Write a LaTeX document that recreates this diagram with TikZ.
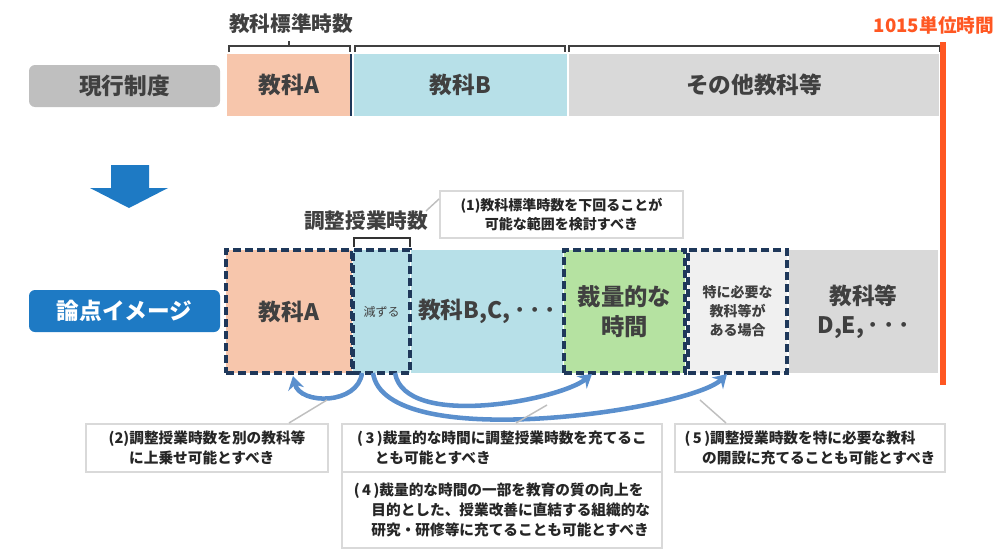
\documentclass[tikz,border=0pt]{standalone}
\usepackage{fontspec}
\setmainfont{Noto Sans CJK JP}
\usetikzlibrary{arrows.meta, calc}

\definecolor{peach}{RGB}{247,198,172}
\definecolor{skyb}{RGB}{183,224,232}
\definecolor{lgray}{RGB}{217,217,217}
\definecolor{pgray}{RGB}{240,240,240}
\definecolor{mgray}{RGB}{191,191,191}
\definecolor{leafg}{RGB}{181,226,161}
\definecolor{navy}{RGB}{31,56,90}
\definecolor{ptblue}{RGB}{30,122,196}
\definecolor{arblue}{RGB}{90,143,205}
\definecolor{orangeR}{RGB}{255,87,34}
\definecolor{txtg}{RGB}{64,64,64}

\begin{document}
\begin{tikzpicture}[
    x=0.75pt, y=-0.75pt,
    box/.style={rectangle, inner sep=0pt, outer sep=0pt, align=center, text=txtg,
        font=\fontsize{17}{22}\selectfont\bfseries},
    bar/.style={box, minimum height=46.5pt},
    cell/.style={box, minimum height=92.25pt},
    dbox/.style={cell, draw=navy, line width=2.3pt, dash pattern=on 6pt off 3pt},
    tag/.style={box, rounded corners=4.5pt, minimum width=143.25pt, minimum height=31.5pt},
    note/.style={rectangle, draw=lgray, line width=1.5pt, fill=white, inner sep=0pt,
        text=black!85, font=\fontsize{11}{15}\selectfont\bfseries},
    bracket/.style={line width=1.5pt, draw=black!75},
    leader/.style={draw=mgray, line width=1.1pt},
    move/.style={draw=arblue, line width=3.4pt, -{Stealth[length=10pt, width=12pt]}}
]
    \useasboundingbox (0,0) rectangle (999,553);

    % current system
    \node[tag, fill=mgray] (genkou) at (124.5,86) {現行制度};
    \node[bar, fill=peach, minimum width=93pt] (kaA) at (289,85) {教科A};
    \node[bar, fill=skyb, minimum width=159.75pt] (kaB) at (460.5,85) {教科B};
    \node[bar, fill=lgray, minimum width=277.5pt] (sonota) at (754,85) {その他教科等};
    \draw[navy, line width=1.6pt] (kaA.north east) -- (kaA.south east);

    \node[box, font=\fontsize{15.5}{18}\selectfont\bfseries] (hyoujun) at (291,24) {教科標準時数};
    \draw[bracket] (229,52) -- (229,46) -- (350,46) -- (350,52);
    \draw[bracket] (289,46) -- (289,41);
    \draw[bracket] (355,52) -- (355,46) -- (565,46) -- (565,52);
    \draw[bracket] (569,52) -- (569,46) -- (940,46) -- (940,52);

    % 1015 limit
    \draw[orangeR, line width=4.5pt] (943,42) -- (943,385);
    \node[box, anchor=east, text=orangeR, font=\fontsize{14}{16}\selectfont\bfseries] (limit) at (994,25) {1015単位時間};

    % down arrow
    \fill[ptblue] (111,165) -- (149,165) -- (149,188) -- (168,188) -- (129,208) -- (90,188) -- (111,188) -- cycle;

    % proposed image
    \node[tag, fill=ptblue, text=white] (ronten) at (124.5,311) {論点イメージ};
    \node[cell, fill=skyb, minimum width=114pt] (kaBC) at (487,311.5) {教科B,C,\,･\,･\,･};
    \node[cell, fill=lgray, minimum width=111.75pt] (kaD) at (863.5,311.5) {教科等\\D,E,\,･\,･\,･};
    \node[dbox, fill=peach, minimum width=94.5pt] (kaA2) at (289,311.5) {教科A};
    \node[dbox, fill=skyb, minimum width=42.75pt, font=\fontsize{9}{11}\selectfont] (genzuru) at (381.5,311.5) {減ずる};
    \node[dbox, fill=leafg, minimum width=90.75pt, font=\fontsize{17.5}{22.5}\selectfont\bfseries] (sairyou) at (624.5,311.5) {裁量的な\\時間};
    \node[dbox, fill=pgray, minimum width=74.25pt, font=\fontsize{10.5}{14.2}\selectfont\bfseries] (tokuni) at (737.5,311.5) {特に必要な\\教科等が\\ある場合};

    \node[box, font=\fontsize{15.5}{18}\selectfont\bfseries] (chousei) at (366,221) {調整授業時数};
    \draw[line width=2pt, draw=black!80] (354,247) -- (354,238) -- (410,238) -- (410,247);

    % notes
    \node[note, minimum width=182.25pt, minimum height=35.25pt, align=center,
        font=\fontsize{10.5}{14}\selectfont\bfseries] (note1) at (561.5,214.5)
        {(1)教科標準時数を下回ることが\\可能な範囲を検討すべき};
    \node[note, minimum width=181.5pt, minimum height=36pt, align=left] (note2) at (207,448)
        {(2)調整授業時数を別の教科等\\\hspace*{1.4em}に上乗せ可能とすべき};
    \node[note, minimum width=240pt, minimum height=36pt, align=left] (note3) at (502,448)
        {(\,3\,)裁量的な時間に調整授業時数を充てるこ\\\hspace*{1.2em}とも可能とすべき};
    \node[note, minimum width=240pt, minimum height=57pt, align=left] (note4) at (502,510)
        {(\,4\,)裁量的な時間の一部を教育の質の向上を\\\hspace*{1.2em}目的とした、授業改善に直結する組織的な\\\hspace*{1.2em}研究・研修等に充てることも可能とすべき};
    \node[note, minimum width=202.5pt, minimum height=36pt, align=left] (note5) at (810,448)
        {(\,5\,)調整授業時数を特に必要な教科\\\hspace*{1.2em}の開設に充てることも可能とすべき};

    % moving the adjusted hours
    \draw[move] ($(genzuru.south west)+(9,0)$) .. controls (358,405) and (300,405) .. ($(kaA2.south west)+(67,3)$);
    \draw[move] ($(genzuru.south west)+(20,0)$) .. controls (385,455) and (690,410) .. ($(tokuni.south west)+(39,1)$);
    \draw[move] ($(genzuru.south west)+(42,0)$) .. controls (405,430) and (560,400) .. ($(sairyou.south west)+(28,1)$);

    % leaders
    \coordinate (p1) at (426,211);
    \coordinate (p2) at (327,400);
    \coordinate (p3) at (547,405);
    \coordinate (p5) at (700,400);
    \draw[leader] ($(note1.north west)+(0,9)$) -- (p1);
    \draw[leader] ($(note2.north west)+(204,0)$) -- (p2);
    \draw[leader] ($(note3.north west)+(175,0)$) -- (p3);
    \draw[leader] ($(note5.north west)+(52,0)$) -- (p5);
\end{tikzpicture}
\end{document}
